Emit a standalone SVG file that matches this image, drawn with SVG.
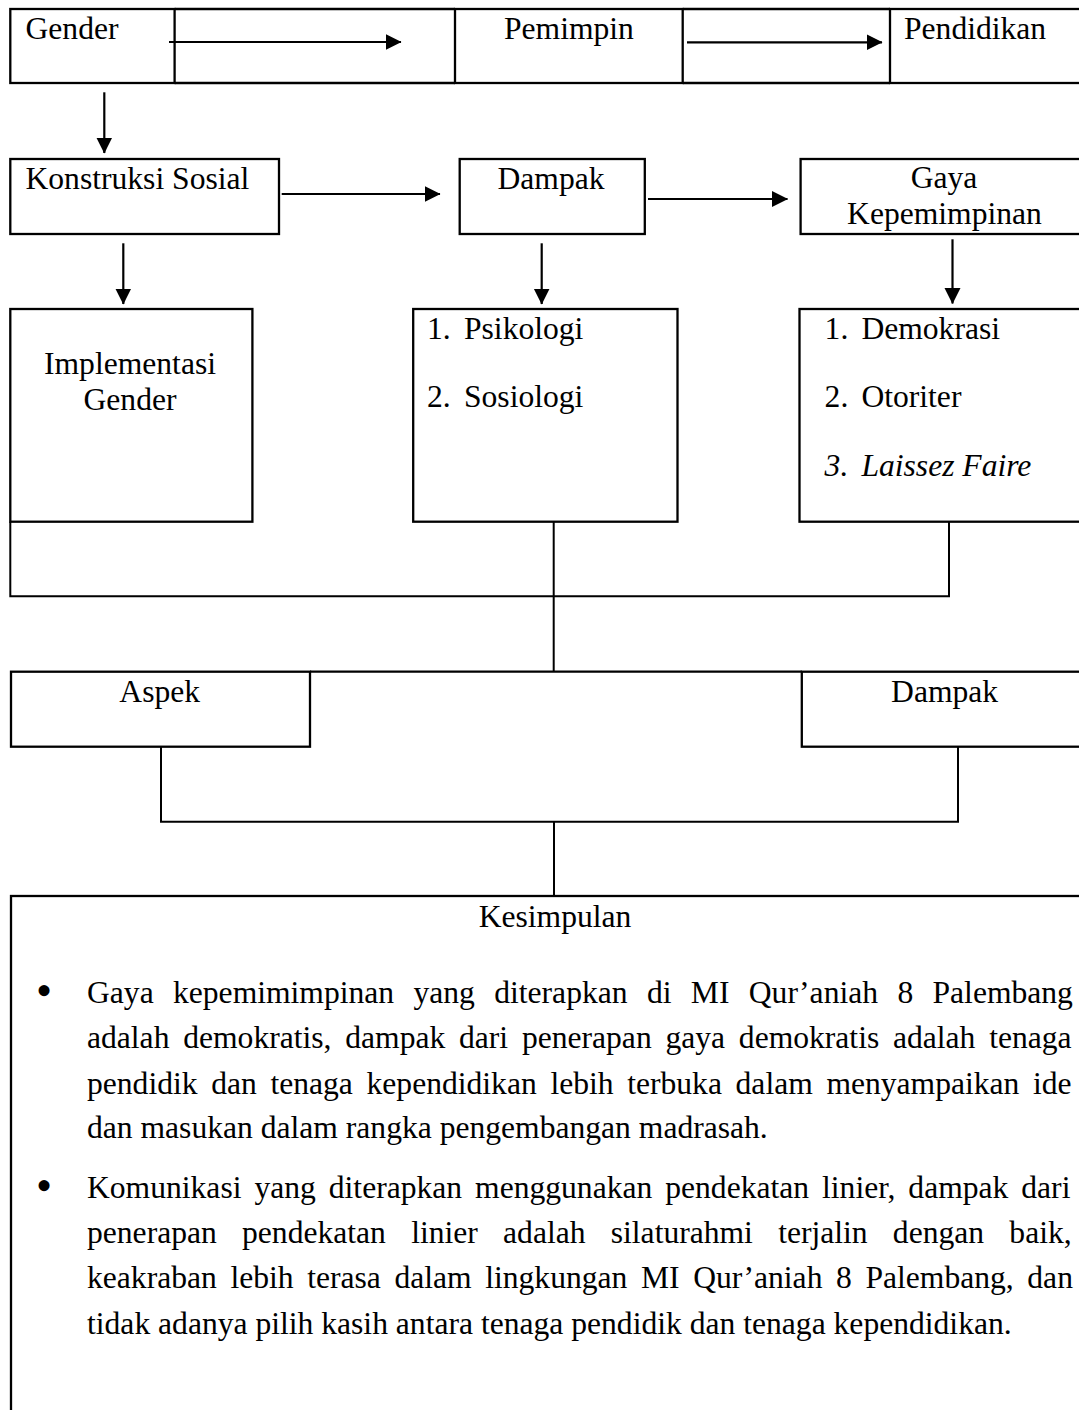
<svg xmlns="http://www.w3.org/2000/svg" width="1079" height="1410" viewBox="0 0 1079 1410">
<style>
  text { font-family: "Liberation Serif", "Times New Roman", serif; font-size: 31.6px; fill: #000; }
  .c { text-anchor: middle; }
  .it { font-style: italic; }
  .bul { font-size: 46px; }
  .box { fill: none; stroke: #000; stroke-width: 2.3; }
  .ln { fill: none; stroke: #000; stroke-width: 2; }
  .arr { fill: none; stroke: #000; stroke-width: 2.2; marker-end: url(#ah); }
</style>
<defs>
  <marker id="ah" markerUnits="userSpaceOnUse" markerWidth="17" markerHeight="17" refX="15.5" refY="8" orient="auto">
    <path d="M0,0 L16,8 L0,16 Z" fill="#000"/>
  </marker>
</defs>
<rect width="1079" height="1410" fill="#fff"/>

<g id="table-frame">
  <line class="box" x1="174.6" y1="9" x2="455" y2="9"/>
  <line class="box" x1="174.6" y1="83" x2="455" y2="83"/>
  <line class="box" x1="682.7" y1="9" x2="890" y2="9"/>
  <line class="box" x1="682.7" y1="83" x2="890" y2="83"/>
  <line class="box" x1="310" y1="671.7" x2="801.8" y2="671.7"/>
</g>

<g id="node-gender">
  <rect class="box" x="10.3" y="9" width="164.3" height="74"/>
  <text x="25.5" y="39.3">Gender</text>
</g>
<g id="node-pemimpin">
  <rect class="box" x="455" y="9" width="227.7" height="74"/>
  <text x="504" y="39.3">Pemimpin</text>
</g>
<g id="node-pendidikan">
  <rect class="box" x="890" y="9" width="200" height="74"/>
  <text x="904" y="39.3">Pendidikan</text>
</g>

<g id="node-konstruksi">
  <rect class="box" x="10.3" y="159" width="268.7" height="75"/>
  <text x="25.5" y="189">Konstruksi Sosial</text>
</g>
<g id="node-dampak1">
  <rect class="box" x="459.7" y="159" width="185.1" height="75"/>
  <text x="497.5" y="189">Dampak</text>
</g>
<g id="node-gaya">
  <rect class="box" x="800.6" y="159" width="290" height="75"/>
  <text class="c" x="944" y="188.3">Gaya</text>
  <text class="c" x="944.5" y="224">Kepemimpinan</text>
</g>

<g id="node-implementasi">
  <rect class="box" x="10.3" y="309" width="242.1" height="212.7"/>
  <text class="c" x="130" y="374">Implementasi</text>
  <text class="c" x="130" y="410">Gender</text>
</g>
<g id="node-aspek-dampak">
  <rect class="box" x="413.2" y="309" width="264.3" height="212.7"/>
  <text x="427" y="339">1.</text><text x="464" y="339">Psikologi</text>
  <text x="427" y="407.3">2.</text><text x="464" y="407.3">Sosiologi</text>
</g>
<g id="node-gaya-list">
  <rect class="box" x="799.5" y="309" width="290" height="212.7"/>
  <text x="824.6" y="339">1.</text><text x="861.4" y="339">Demokrasi</text>
  <text x="824.6" y="407.3">2.</text><text x="861.4" y="407.3">Otoriter</text>
  <text class="it" x="824.6" y="476">3.</text><text class="it" x="861.4" y="476">Laissez Faire</text>
</g>

<g id="node-aspek">
  <rect class="box" x="11" y="671.7" width="299" height="75"/>
  <text class="c" x="159.7" y="701.7">Aspek</text>
</g>
<g id="node-dampak2">
  <rect class="box" x="801.8" y="671.7" width="290" height="75"/>
  <text class="c" x="944.6" y="701.7">Dampak</text>
</g>

<g id="node-kesimpulan">
  <rect class="box" x="11" y="896" width="1080" height="530"/>
  <text class="c" x="555" y="926.7">Kesimpulan</text>
  <text class="bul" x="36" y="1005.5">•</text>
  <text x="87" y="1002.6" word-spacing="11.45">Gaya kepemimimpinan yang diterapkan di MI Qur’aniah 8 Palembang</text>
  <text x="87" y="1048" word-spacing="5.86">adalah demokratis, dampak dari penerapan gaya demokratis adalah tenaga</text>
  <text x="87" y="1093.5" word-spacing="5.74">pendidik dan tenaga kependidikan lebih terbuka dalam menyampaikan ide</text>
  <text x="87" y="1138.4">dan masukan dalam rangka pengembangan madrasah.</text>
  <text class="bul" x="36" y="1200.5">•</text>
  <text x="87" y="1197.6" word-spacing="5.06">Komunikasi yang diterapkan menggunakan pendekatan linier, dampak dari</text>
  <text x="87" y="1243" word-spacing="17.35">penerapan pendekatan linier adalah silaturahmi terjalin dengan baik,</text>
  <text x="87" y="1288" word-spacing="5.7">keakraban lebih terasa dalam lingkungan MI Qur’aniah 8 Palembang, dan</text>
  <text x="87" y="1334">tidak adanya pilih kasih antara tenaga pendidik dan tenaga kependidikan.</text>
</g>

<g id="connectors">
  <line class="arr" x1="169" y1="42" x2="401" y2="42"/>
  <line class="arr" x1="687" y1="42.3" x2="882" y2="42.3"/>
  <line class="arr" x1="104.3" y1="92.3" x2="104.3" y2="153"/>
  <line class="arr" x1="281.7" y1="194" x2="440" y2="194"/>
  <line class="arr" x1="648" y1="199" x2="787.5" y2="199"/>
  <line class="arr" x1="123.3" y1="243.3" x2="123.3" y2="304"/>
  <line class="arr" x1="541.7" y1="243.3" x2="541.7" y2="304"/>
  <line class="arr" x1="952.5" y1="239.3" x2="952.5" y2="303.5"/>
  <polyline class="ln" points="10.3,521.7 10.3,596.3 949,596.3 949,521.7"/>
  <line class="ln" x1="553.7" y1="521.7" x2="553.7" y2="671.7"/>
  <polyline class="ln" points="161,746.7 161,821.7 958,821.7 958,746.7"/>
  <line class="ln" x1="554" y1="821.7" x2="554" y2="896"/>
</g>
</svg>
